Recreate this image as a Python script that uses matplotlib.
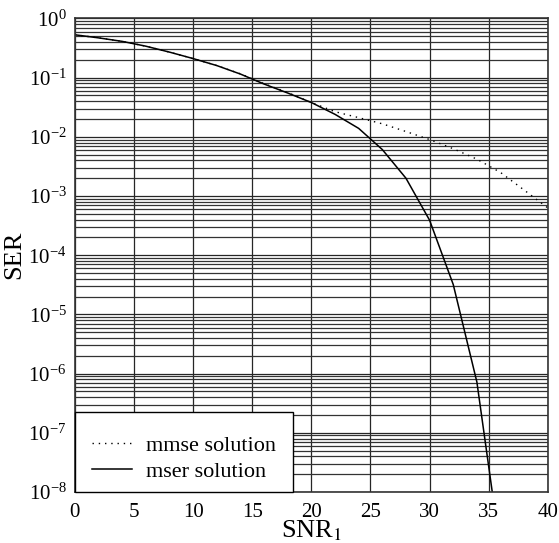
import math
import matplotlib
matplotlib.use("Agg")
import matplotlib.pyplot as plt
from matplotlib.ticker import LogLocator, NullFormatter, FuncFormatter

plt.rcParams['font.family'] = ['Liberation Serif', 'DejaVu Serif']
plt.rcParams['mathtext.fontset'] = 'stix'

# SNR_1 (dB) sample points
snr = [0, 2, 4, 6, 8, 10, 12, 14, 16, 18, 20, 22, 24, 26, 28, 30, 32, 34, 36, 38, 40]

# mmse solution SER
ser_mmse = [0.53, 0.47, 0.41, 0.34, 0.27, 0.21, 0.16, 0.116, 0.079, 0.056, 0.038,
            0.0266, 0.0211, 0.0166, 0.0123, 0.0090, 0.0063, 0.0042, 0.0025, 0.00126, 0.00063]

# mser solution SER (drops below the plotted range)
snr_mser = snr[:19]
ser_mser = [0.53, 0.47, 0.41, 0.34, 0.27, 0.21, 0.16, 0.115, 0.078, 0.055, 0.038,
            0.024, 0.0139, 0.0061, 0.0020, 3.9e-4, 3.2e-5, 7.2e-7, 1.0e-9]

xticks = [0, 5, 10, 15, 20, 25, 30, 35, 40]

fig = plt.figure(figsize=(5.59, 5.43), dpi=100)
ax = fig.add_axes([0.134, 0.094, 0.846, 0.872])

ax.plot(snr, ser_mmse, color='black', lw=1.0, linestyle=(0, (1, 3.5)), label='mmse solution')
ax.plot(snr_mser, ser_mser, color='black', lw=1.1, label='mser solution')

ax.set_yscale('log')
ax.set_xlim(0, 40)
ax.set_ylim(1e-8, 1)
ax.set_xticks(xticks)
ax.yaxis.set_major_locator(LogLocator(base=10, numticks=20))
ax.yaxis.set_minor_locator(LogLocator(base=10, subs=range(2, 10), numticks=20))
ax.yaxis.set_minor_formatter(NullFormatter())
ax.yaxis.set_major_formatter(FuncFormatter(lambda v, p: r'$\mathregular{10^{%d}}$' % round(math.log10(v))))

ax.grid(True, which='major', color='0.15', lw=0.9)
ax.grid(True, which='minor', axis='y', color='0.2', lw=0.9)
ax.set_axisbelow(True)

ax.tick_params(which='both', length=0)
ax.tick_params(axis='x', labelsize=15, pad=8)
ax.tick_params(axis='y', labelsize=15, pad=6)
for s in ax.spines.values():
    s.set_linewidth(1.2)
    s.set_color('0.2')

ax.set_xlabel(r'SNR$_1$', fontsize=19, labelpad=-3)
ax.set_ylabel('SER', fontsize=19, labelpad=2)

leg = ax.legend(loc='lower left', bbox_to_anchor=(0, 0), borderaxespad=0,
                fontsize=16, fancybox=False, framealpha=1, edgecolor='black',
                handlelength=1.8, handletextpad=0.65, labelspacing=0.25,
                borderpad=0.75)
leg.get_frame().set_linewidth(1.0)
# nudge legend rows a little lower inside the frame, as in the original
for t in leg.get_texts():
    t.set_y(-7)
for h in leg.get_lines():
    h.set_ydata([y - 5 for y in h.get_ydata()])

fig.savefig('out.png', dpi=100)
